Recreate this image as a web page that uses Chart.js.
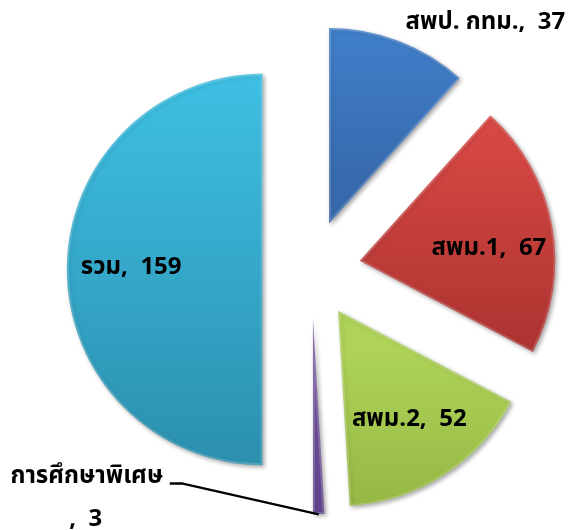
<!DOCTYPE html>
<html>
<head>
<meta charset="utf-8">
<script src="https://cdn.jsdelivr.net/npm/chart.js@4.4.1/dist/chart.umd.min.js"></script>
<style>
  html, body { margin: 0; padding: 0; background: #fff; }
  #wrap { width: 579px; height: 530px; }
</style>
</head>
<body>
<div id="wrap"><canvas id="pie"></canvas></div>
<script>
const categories = ['สพป. กทม.', 'สพม.1', 'สพม.2', 'การศึกษาพิเศษ', 'รวม'];
const counts = [37, 67, 52, 3, 159];

const topColors = ['#4486d4', '#dc4a47', '#aed358', '#74559f', '#3ec0e4'];
const bottomColors = ['#376aad', '#ad3431', '#8fb03f', '#5b3f86', '#2c8fae'];

// where each label goes: inside the slice, outside past the rim, or on a leader line
const labelModes = ['outside', 'inside', 'inside', 'callout', 'inside'];

const RADIUS = 196;
const SHIFT = 49;   // how far each slice is pulled out from the centre
const FONT = '"Tahoma", "Noto Sans Thai", "Loma", "Garuda", "Noto Sans", sans-serif';

function sliceGeom(chart, i) {
    const a = chart.chartArea;
    const cx = (a.left + a.right) / 2;
    const cy = (a.top + a.bottom) / 2;
    const total = counts.reduce((s, v) => s + v, 0);
    let cum = 0;
    for (let k = 0; k < i; k++) cum += counts[k];
    const start = -Math.PI / 2 + 2 * Math.PI * cum / total;
    const end = start + 2 * Math.PI * counts[i] / total;
    const mid = (start + end) / 2;
    const ox = cx + Math.cos(mid) * SHIFT;
    const oy = cy + Math.sin(mid) * SHIFT;
    let ymin = oy, ymax = oy;
    for (let t = 0; t <= 24; t++) {
        const y = oy + Math.sin(start + (end - start) * t / 24) * RADIUS;
        ymin = Math.min(ymin, y);
        ymax = Math.max(ymax, y);
    }
    return { ox, oy, mid, ymin, ymax };
}

// draw every arc pulled out along its bisector, with a soft drop shadow
const explode = {
    id: 'explode',
    beforeDatasetDraw(chart, args) {
        const ctx = chart.ctx;
        args.meta.data.forEach(arc => {
            const mid = (arc.startAngle + arc.endAngle) / 2;
            ctx.save();
            ctx.shadowColor = 'rgba(0, 0, 0, 0.35)';
            ctx.shadowBlur = 4;
            ctx.shadowOffsetX = 2;
            ctx.shadowOffsetY = 2;
            ctx.translate(Math.cos(mid) * SHIFT, Math.sin(mid) * SHIFT);
            arc.draw(ctx, chart.chartArea);
            ctx.restore();
        });
        return false;
    }
};

const labels = {
    id: 'sliceLabels',
    afterDatasetsDraw(chart) {
        const ctx = chart.ctx;
        ctx.save();
        ctx.fillStyle = '#000';
        ctx.font = 'bold 24px ' + FONT;
        chart.getDatasetMeta(0).data.forEach((arc, i) => {
            const g = sliceGeom(chart, i);
            const text = categories[i] + ',  ' + counts[i];
            const dx = Math.cos(g.mid), dy = Math.sin(g.mid);
            if (labelModes[i] === 'inside') {
                const d = RADIUS * 0.67;
                const nudge = i === 1 ? 13 : 0;
                ctx.textAlign = 'center';
                ctx.textBaseline = 'middle';
                ctx.fillText(text, g.ox + dx * d, g.oy + dy * d + nudge);
            } else if (labelModes[i] === 'outside') {
                const d = RADIUS + 18;
                ctx.textAlign = 'left';
                ctx.textBaseline = 'middle';
                ctx.fillText(text, g.ox + dx * d, g.oy + dy * d);
            } else {
                const tipX = g.ox + dx * RADIUS;
                const tipY = g.oy + dy * RADIUS;
                ctx.strokeStyle = '#000';
                ctx.lineWidth = 2.5;
                ctx.beginPath();
                ctx.moveTo(tipX, tipY);
                ctx.lineTo(tipX - 137, tipY - 31);
                ctx.lineTo(tipX - 149, tipY - 31);
                ctx.stroke();
                ctx.textAlign = 'center';
                ctx.textBaseline = 'alphabetic';
                ctx.fillText(categories[i], tipX - 232, tipY - 31);
                ctx.fillText(',  ' + counts[i], tipX - 233, tipY + 12);
            }
        });
        ctx.restore();
    }
};

new Chart(
    document.getElementById('pie'),
    {
        type: 'pie',
        data: {
            labels: categories,
            datasets: [
                {
                    data: counts,
                    backgroundColor: (context) => {
                        const chart = context.chart;
                        const i = context.dataIndex;
                        if (!chart.chartArea || i === undefined) return topColors[i || 0];
                        const g = sliceGeom(chart, i);
                        const grad = chart.ctx.createLinearGradient(0, g.ymin, 0, g.ymax);
                        grad.addColorStop(0, topColors[i]);
                        grad.addColorStop(1, bottomColors[i]);
                        return grad;
                    },
                    borderColor: 'rgba(255, 255, 255, 0.18)',
                    borderWidth: 2,
                    borderAlign: 'inner',
                    offset: 0,
                    hoverOffset: 0
                }
            ]
        },
        options: {
            responsive: true,
            maintainAspectRatio: false,
            animation: false,
            radius: RADIUS,
            layout: {
                padding: { left: 44, top: 9, right: 0, bottom: 0 }
            },
            plugins: {
                legend: { display: false },
                tooltip: { enabled: false }
            },
            events: []
        },
        plugins: [explode, labels]
    }
);
</script>
</body>
</html>
